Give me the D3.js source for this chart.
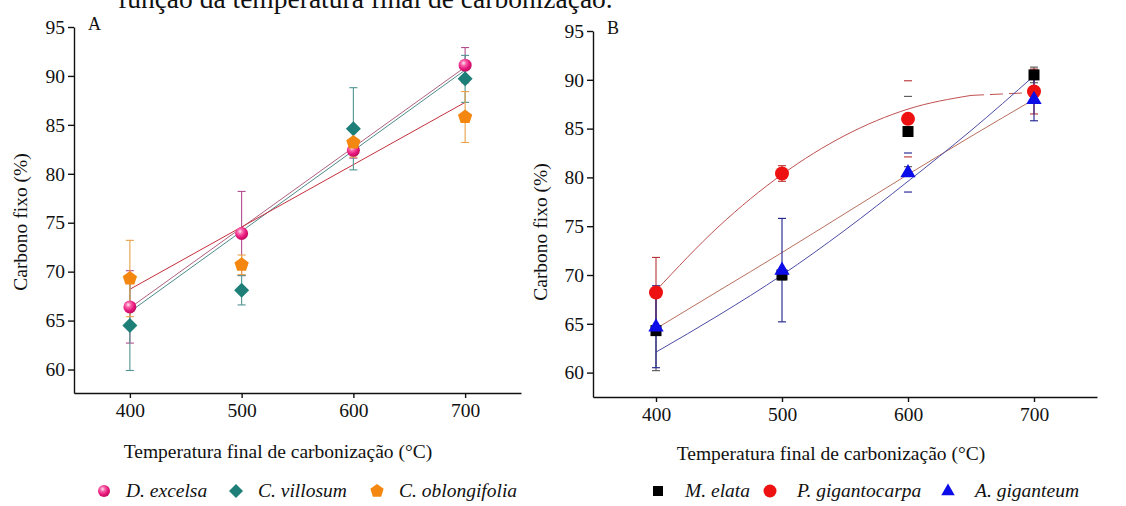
<!DOCTYPE html>
<html>
<head>
<meta charset="utf-8">
<style>
  body { margin: 0; background: #fff; }
  svg text { font-family: "Times New Roman", "Liberation Serif", "DejaVu Serif", serif; fill: #111; }
  .axis path, .axis line { stroke: #111; stroke-width: 1.4px; }
  .axis text { font-size: 19.5px; font-family: "Times New Roman", "Liberation Serif", "DejaVu Serif", serif; }
  .title { font-size: 19.5px; }
  .legend { font-size: 19.5px; font-style: italic; }
  .trend { fill: none; stroke-width: 1px; }
  .err { stroke-width: 1.1px; fill: none; }
</style>
</head>
<body>
<svg width="1126" height="506"></svg>

<script src="https://cdn.jsdelivr.net/npm/d3@7"></script>
<script>

// temperaturas (eixo x) e ticks
var temps = [400, 500, 600, 700];
var yTicks = [60, 65, 70, 75, 80, 85, 90, 95];

// painel A - medias e desvios
var excelsa = [66.4, 73.9, 82.4, 91.1];
var excelsaErr = [3.7, 4.3, 0.8, 1.8];
var villosum = [64.5, 68.1, 84.6, 89.7];
var villosumErr = [4.6, 1.5, 4.2, 2.4];
var oblongifolia = [69.3, 70.7, 83.2, 85.8];
var oblongifoliaErr = [3.9, 1.0, 1.5, 2.6];

// painel A - retas ajustadas (lidas em 400 e 700)
var trendTempsA = [400, 700];
var excelsaTrend = [66.3, 90.9];
var villosumTrend = [65.9, 90.6];
var oblongifoliaTrend = [68.2, 87.3];

// painel B - medias e desvios
var elata = [64.3, 70.0, 84.7, 90.5];
var elataErr = [4.1, 0.5, 3.6, 0.8];
var gigantocarpa = [68.2, 80.4, 86.0, 88.8];
var gigantocarpaErr = [3.6, 0.8, 3.9, 2.3];
var giganteum = [64.7, 70.5, 80.5, 88.0];
var giganteumErr = [4.2, 5.3, 2.0, 2.2];

// painel B - curvas ajustadas (lidas a cada 50 graus)
var trendTempsB = [400, 450, 500, 550, 600, 650, 700];
var gigantocarpaTrend = [68.4, 75.0, 80.3, 84.3, 87.0, 88.4, 88.7];
var giganteumTrend = [64.5, 68.4, 72.3, 76.3, 80.3, 84.2, 88.0];
var elataTrend = [62.1, 65.9, 70.0, 74.6, 79.6, 84.8, 90.4];

var svg = d3.select("svg");

// esfera rosa (marcador com brilho)
var grad = svg.append("defs").append("radialGradient")
    .attr("id", "sphere").attr("cx", "38%").attr("cy", "34%").attr("r", "70%");
grad.append("stop").attr("offset", "0%").attr("stop-color", "#ffe8f3");
grad.append("stop").attr("offset", "28%").attr("stop-color", "#f865aa");
grad.append("stop").attr("offset", "65%").attr("stop-color", "#e8167c");
grad.append("stop").attr("offset", "100%").attr("stop-color", "#b80d5c");

// texto cortado no topo da pagina
svg.append("text")
    .attr("x", 118).attr("y", 8)
    .style("font-size", "27.5px")
    .text("função da temperatura final de carbonização.");

function shape(type, r) {
  if (type == "circle") return d3.symbol().type(d3.symbolCircle).size(Math.PI * r * r)();
  if (type == "square") return "M" + (-r) + "," + (-r) + "h" + 2 * r + "v" + 2 * r + "h" + (-2 * r) + "Z";
  if (type == "diamond") return "M0," + (-r) + "L" + r + ",0L0," + r + "L" + (-r) + ",0Z";
  if (type == "triangle") return "M0," + (-r) + "L" + (r * 0.9) + "," + (r * 0.55) + "L" + (-r * 0.9) + "," + (r * 0.55) + "Z";
  // pentagono
  return d3.line()(d3.range(5).map(function(i) {
    var a = -Math.PI / 2 + i * 2 * Math.PI / 5;
    return [r * Math.cos(a), r * Math.sin(a)];
  })) + "Z";
}

function drawPanel(p) {
  var x = d3.scaleLinear().domain([350, 750]).range([p.left, p.right]);
  var y = d3.scaleLinear().domain([p.yMin, 95]).range([p.bottom, p.top]);
  var g = svg.append("g");

  g.append("g").attr("class", "axis")
      .attr("transform", "translate(0," + p.bottom + ")")
      .call(d3.axisBottom(x).tickValues(temps).tickSize(5).tickSizeOuter(0).tickPadding(5));

  g.append("g").attr("class", "axis")
      .attr("transform", "translate(" + p.left + ",0)")
      .call(d3.axisLeft(y).tickValues(yTicks).tickSize(6).tickSizeOuter(0).tickPadding(3));

  // linhas de tendencia
  p.trends.forEach(function(t) {
    var line = d3.line()
        .x(function(d) { return x(d[0]); })
        .y(function(d) { return y(d[1]); })
        .curve(t.xs.length > 2 ? d3.curveMonotoneX : d3.curveLinear);
    var pts = t.xs.map(function(v, i) { return [v, t.ys[i]]; });
    var solid = t.dashFrom ? pts.slice(0, t.dashFrom + 1) : pts;
    g.append("path").attr("class", "trend").attr("stroke", t.color).attr("d", line(solid));
    if (t.dashFrom) {
      g.append("path").attr("class", "trend").attr("stroke", t.color)
          .attr("stroke-dasharray", "13,6").attr("stroke-width", 1.3)
          .attr("d", line(pts.slice(t.dashFrom)));
    }
  });

  // barras de erro
  p.series.forEach(function(s) {
    var eg = g.append("g").attr("class", "err").attr("stroke", s.errColor);
    s.values.forEach(function(v, i) {
      var cx = x(temps[i]), hi = y(v + s.err[i]), lo = y(v - s.err[i]);
      if (!(p.hiddenStems && p.hiddenStems.indexOf(temps[i]) >= 0)) {
        eg.append("line").attr("x1", cx).attr("x2", cx).attr("y1", hi).attr("y2", lo);
      }
      eg.append("line").attr("x1", cx - 4).attr("x2", cx + 4).attr("y1", hi).attr("y2", hi);
      eg.append("line").attr("x1", cx - 4).attr("x2", cx + 4).attr("y1", lo).attr("y2", lo);
    });
  });

  // marcadores
  p.series.forEach(function(s) {
    g.selectAll(null)
        .data(s.values)
        .enter().append("path")
        .attr("transform", function(d, i) { return "translate(" + x(temps[i]) + "," + y(d) + ")"; })
        .attr("d", shape(s.shape, s.r))
        .attr("fill", s.fill);
  });

  // titulos
  svg.append("text").attr("class", "title")
      .attr("transform", "translate(" + p.yLabelX + "," + p.yLabelY + ") rotate(-90)")
      .attr("text-anchor", "middle")
      .text("Carbono fixo (%)");
  svg.append("text").attr("class", "title")
      .attr("x", p.xLabelX).attr("y", p.xLabelY)
      .attr("text-anchor", "middle")
      .text("Temperatura final de carbonização (°C)");
  svg.append("text")
      .attr("x", p.left + 14).attr("y", p.top + 3)
      .style("font-size", "18px")
      .text(p.letter);

  // legenda
  var lg = svg.append("g").attr("transform", "translate(0," + p.legendY + ")");
  p.series.forEach(function(s, i) {
    lg.append("path")
        .attr("transform", "translate(" + p.legendX[i] + ",0)")
        .attr("d", shape(s.shape, s.legendR))
        .attr("fill", s.fill);
    lg.append("text").attr("class", "legend")
        .attr("x", p.legendX[i] + p.legendGap).attr("y", 6)
        .text(s.name);
  });
}

drawPanel({
  letter: "A",
  left: 74, right: 521, top: 27, bottom: 393, yMin: 57.6,
  yLabelX: 27, yLabelY: 222, xLabelX: 278, xLabelY: 458,
  legendY: 491, legendX: [104, 236, 377], legendGap: 22,
  trends: [
    { xs: trendTempsA, ys: excelsaTrend, color: "#b0607e" },
    { xs: trendTempsA, ys: villosumTrend, color: "#4b8c8a" },
    { xs: trendTempsA, ys: oblongifoliaTrend, color: "#c4303c" }
  ],
  series: [
    { name: "C. oblongifolia", values: oblongifolia, err: oblongifoliaErr, shape: "pentagon", r: 7.5, legendR: 7, fill: "#f4870f", errColor: "#e6a048" },
    { name: "C. villosum", values: villosum, err: villosumErr, shape: "diamond", r: 7.5, legendR: 7, fill: "#1d7f78", errColor: "#4f9492" },
    { name: "D. excelsa", values: excelsa, err: excelsaErr, shape: "circle", r: 6.5, legendR: 6, fill: "url(#sphere)", errColor: "#b04d8c" }
  ].reverse()
});

drawPanel({
  letter: "B",
  left: 593, right: 1097, top: 31, bottom: 397, yMin: 57.5,
  yLabelX: 547, yLabelY: 232, xLabelX: 831, xLabelY: 460,
  legendY: 491, legendX: [658, 770, 948], legendGap: 27,
  hiddenStems: [600],
  trends: [
    { xs: trendTempsB, ys: gigantocarpaTrend, color: "#c05050", dashFrom: 5 },
    { xs: trendTempsB, ys: giganteumTrend, color: "#b8705e" },
    { xs: trendTempsB, ys: elataTrend, color: "#4c4ca6" }
  ],
  series: [
    { name: "M. elata", values: elata, err: elataErr, shape: "square", r: 5.5, legendR: 5, fill: "#000", errColor: "#555" },
    { name: "P. gigantocarpa", values: gigantocarpa, err: gigantocarpaErr, shape: "circle", r: 7, legendR: 6.5, fill: "#ee1111", errColor: "#b83434" },
    { name: "A. giganteum", values: giganteum, err: giganteumErr, shape: "triangle", r: 8.5, legendR: 7.5, fill: "#0c0ce8", errColor: "#1c1c8e" }
  ]
});

</script>
</body>
</html>
